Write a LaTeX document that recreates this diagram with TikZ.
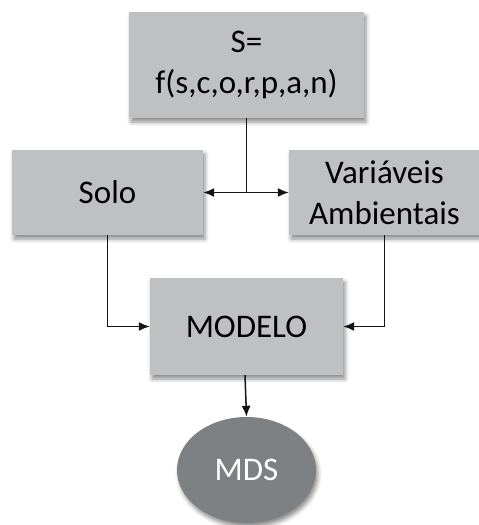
\documentclass[tikz,border=0pt]{standalone}
\usepackage{fontspec}
\setmainfont{Carlito}
\usetikzlibrary{arrows.meta,shadows.blur,shapes.geometric}
\definecolor{boxgray}{RGB}{191,192,194}
\definecolor{ovalgray}{RGB}{126,129,131}
\definecolor{linegray}{RGB}{20,20,20}
\tikzset{
  block/.style={rectangle, fill=boxgray, draw=none, align=center,
    font=\fontsize{33}{41}\selectfont, inner sep=0pt,
    blur shadow={shadow xshift=2pt, shadow yshift=-4pt, shadow blur radius=4pt, shadow opacity=45}},
  result/.style={ellipse, fill=ovalgray, draw=none, text=white,
    font=\fontsize{33}{41}\selectfont, inner sep=0pt,
    blur shadow={shadow xshift=2pt, shadow yshift=-4pt, shadow blur radius=4pt, shadow opacity=45}},
  link/.style={draw=linegray, line width=1.5pt, -{Latex[length=11pt,width=9pt]}},
}
\begin{document}
\begin{tikzpicture}[x=1pt, y=-1pt]
  \useasboundingbox (0,0) rectangle (479,525);
  \node[block, minimum width=235pt, minimum height=106pt] (func) at (246.5,65)
    {S=\\f(s,c,o,r,p,a,n)};
  \node[block, minimum width=191pt, minimum height=85pt] (solo) at (107.5,192.5) {Solo};
  \node[block, minimum width=191pt, minimum height=85pt] (vars) at (384.5,192.5)
    {Variáveis\\Ambientais};
  \node[block, minimum width=193pt, minimum height=97pt] (modelo) at (246.5,326.5) {MODELO};
  \node[result, minimum width=139pt, minimum height=106pt] (mds) at (246.5,470) {MDS};

  \draw[link] (func.south) |- (solo.east);
  \draw[link] (func.south) |- (vars.west);
  \draw[link] (solo.south) |- (modelo.west);
  \draw[link] (vars.south) |- (modelo.east);
  \draw[link] ([xshift=-1.5pt]modelo.south) -- (mds.north);
\end{tikzpicture}
\end{document}
